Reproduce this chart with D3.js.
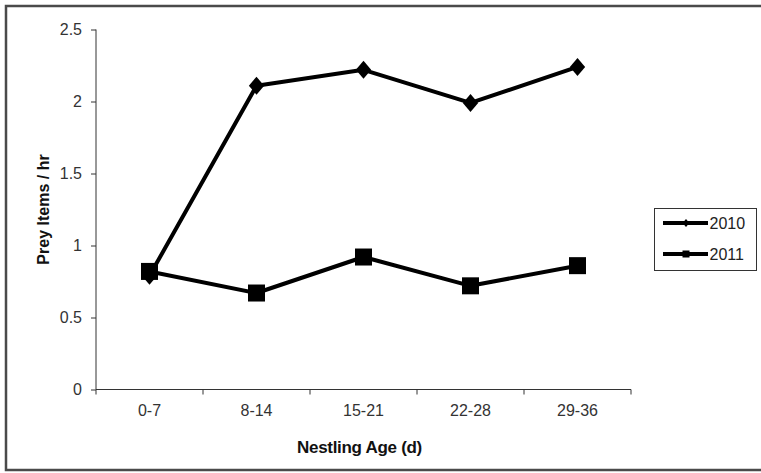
<!DOCTYPE html>
<meta charset="utf-8">
<style>
  body { margin: 0; background: #fff; }
  .tick text { font-family: "Liberation Sans", Arial, sans-serif; font-size: 16px; fill: #333; }
  .tick line, .domain { stroke: #333; }
</style>
<script src="https://d3js.org/d3.v7.min.js"></script>
<div id="my_dataviz"></div>
<script>

// data
var ages = ["0-7", "8-14", "15-21", "22-28", "29-36"];
var yTicks = [0, 0.5, 1, 1.5, 2, 2.5];
var years = ["2010", "2011"];
var values2010 = [0.79, 2.11, 2.22, 1.99, 2.24];
var values2011 = [0.82, 0.67, 0.92, 0.72, 0.86];

var W = 761, H = 473;
var margin = {left: 96, top: 29.5, right: 130, bottom: 83.5};
var width = 631 - margin.left,
    height = 389.5 - margin.top;

var root = d3.select("#my_dataviz")
  .append("svg")
    .attr("width", W)
    .attr("height", H);

// outer frame
root.append("rect")
  .attr("x", 6).attr("y", 6)
  .attr("width", 760).attr("height", 464)
  .style("fill", "none")
  .style("stroke", "#4a4a4a")
  .style("stroke-width", 2.5);

var svg = root.append("g")
  .attr("transform", "translate(" + margin.left + "," + margin.top + ")");

var x = d3.scaleBand()
  .domain(ages)
  .range([0, width]);

var y = d3.scaleLinear()
  .domain([0, 2.5])
  .range([height, 0]);

// x axis, ticks between categories
var xAxis = svg.append("g")
  .attr("transform", "translate(0," + height + ")")
  .call(d3.axisBottom(x).tickSize(0).tickPadding(15));
xAxis.select(".domain").attr("d", "M0,0H" + width);
xAxis.selectAll(".sep")
  .data(d3.range(ages.length + 1))
  .enter()
  .append("line")
    .attr("x1", function(i){ return i * x.step() })
    .attr("x2", function(i){ return i * x.step() })
    .attr("y1", 0).attr("y2", 5)
    .style("stroke", "#333");

// y axis
var yAxis = svg.append("g")
  .call(d3.axisLeft(y).tickValues(yTicks).tickSize(5).tickPadding(9).tickFormat(d3.format("")));
yAxis.select(".domain").attr("d", "M0," + height + "V0");

// axis titles
svg.append("text")
  .attr("x", width / 2 - 4)
  .attr("y", height + 63.5)
  .attr("text-anchor", "middle")
  .style("font-family", "Liberation Sans, Arial, sans-serif")
  .style("font-size", "17px")
  .style("font-weight", "bold")
  .style("letter-spacing", "-0.3px")
  .style("fill", "#111")
  .text("Nestling Age (d)");

svg.append("text")
  .attr("transform", "rotate(-90)")
  .attr("x", -height / 2)
  .attr("y", -47)
  .attr("text-anchor", "middle")
  .style("font-family", "Liberation Sans, Arial, sans-serif")
  .style("font-size", "16px")
  .style("font-weight", "bold")
  .style("fill", "#111")
  .text("Prey Items / hr");

var series = [
  {name: years[0], values: values2010, shape: "diamond"},
  {name: years[1], values: values2011, shape: "square"}
];

var line = d3.line()
  .x(function(d, i) { return x(ages[i]) + x.bandwidth() / 2 })
  .y(function(d) { return y(d) });

function marker(sel, shape, s) {
  if (shape === "diamond") {
    sel.append("path")
      .attr("d", "M0," + (-s) + "L" + (s * 0.85) + ",0L0," + s + "L" + (-s * 0.85) + ",0Z")
      .style("fill", "#000");
  } else {
    sel.append("rect")
      .attr("x", -s).attr("y", -s)
      .attr("width", 2 * s).attr("height", 2 * s)
      .style("fill", "#000");
  }
}

series.forEach(function(s) {
  svg.append("path")
    .attr("d", line(s.values))
    .style("fill", "none")
    .style("stroke", "#000")
    .style("stroke-width", 4)
    .style("stroke-linejoin", "round");
  s.values.forEach(function(v, i) {
    var g = svg.append("g")
      .attr("transform", "translate(" + (x(ages[i]) + x.bandwidth() / 2) + "," + y(v) + ")");
    marker(g, s.shape, s.shape === "diamond" ? 9 : 8.5);
  });
});

// legend
var legend = root.append("g");
legend.append("rect")
  .attr("x", 654.5).attr("y", 208.5)
  .attr("width", 102).attr("height", 62)
  .style("fill", "#fff")
  .style("stroke", "#333")
  .style("stroke-width", 1);

series.forEach(function(s, i) {
  var ly = 223 + i * 31;
  legend.append("line")
    .attr("x1", 663).attr("x2", 708)
    .attr("y1", ly).attr("y2", ly)
    .style("stroke", "#000")
    .style("stroke-width", 4);
  var g = legend.append("g").attr("transform", "translate(686," + ly + ")");
  marker(g, s.shape, s.shape === "diamond" ? 4 : 3.5);
  legend.append("text")
    .attr("x", 709.5)
    .attr("y", ly + 6)
    .style("font-family", "Liberation Sans, Arial, sans-serif")
    .style("font-size", "16px")
    .style("fill", "#222")
    .text(s.name);
});

</script>
